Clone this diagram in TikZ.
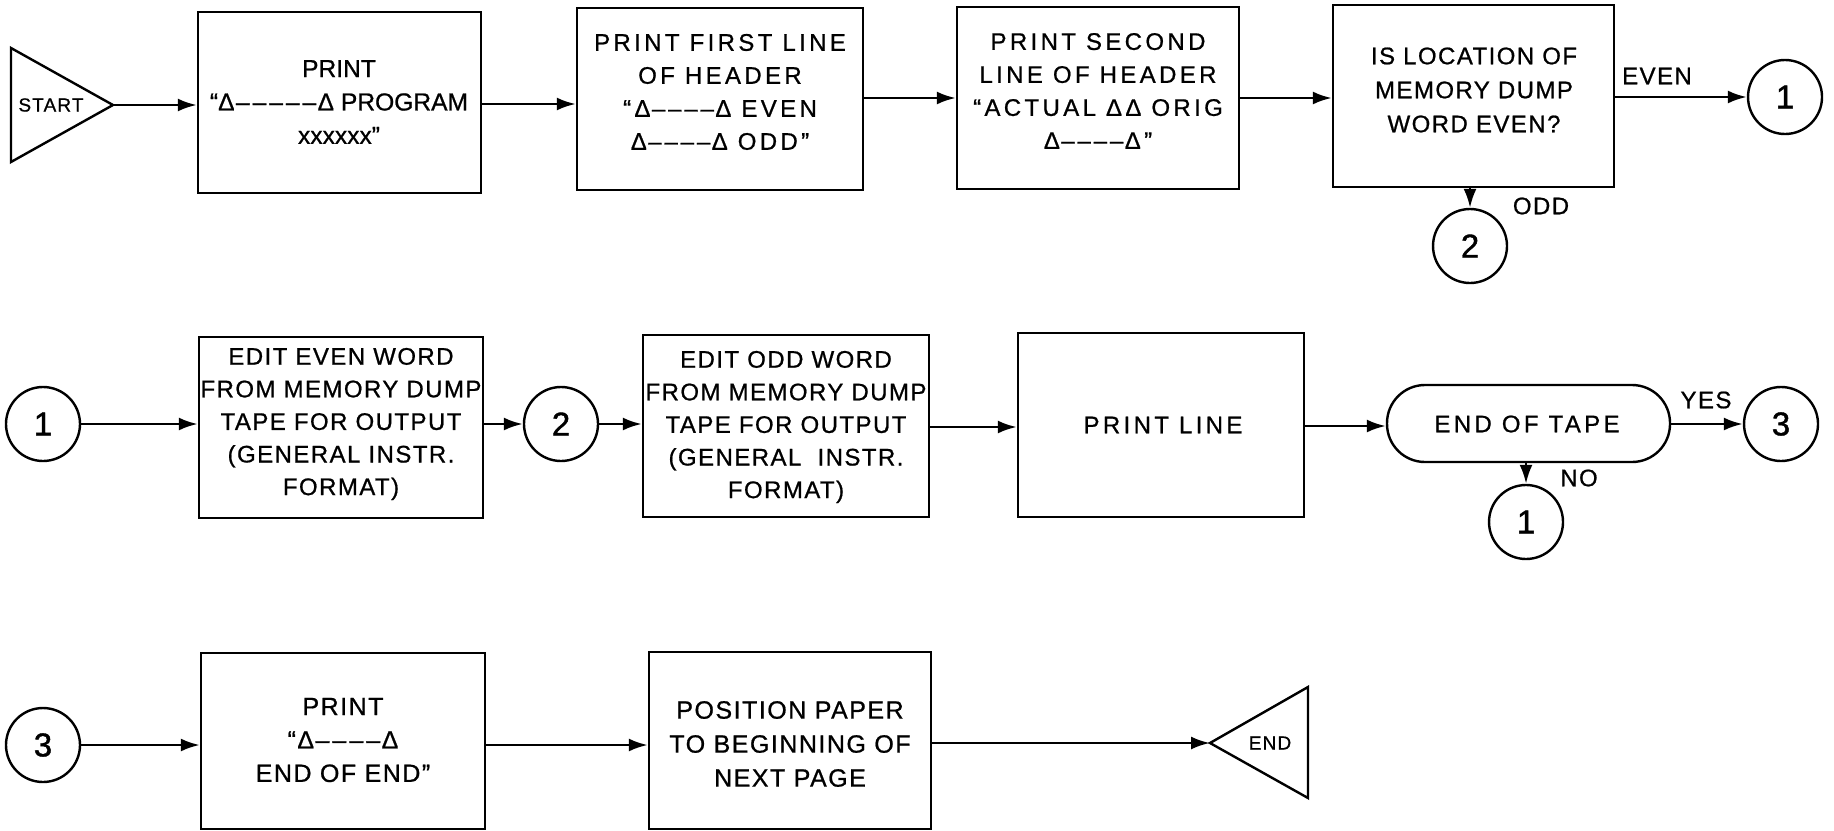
\documentclass[tikz,border=0pt]{standalone}
\usepackage{fontspec}
\setmainfont{Liberation Sans}[LetterSpace=6, FakeBold=0.8]
\newfontfamily\widefont{Liberation Sans}[LetterSpace=14, FakeBold=0.8]
\newfontfamily\plainfont{Liberation Sans}[FakeBold=0.8]
\newfontfamily\numfont{Liberation Sans}[FakeBold=1.2]
\usetikzlibrary{arrows.meta,fit}
\newcommand\fmain{\fontsize{12}{16.5}\selectfont}
\newcommand\fnum{\numfont\fontsize{16.5}{18}\selectfont}
\newcommand\fsmall{\fontsize{9.5}{11}\selectfont}
\newcommand\dk{\kern0.06em–\kern0.06em}
\begin{document}
\begin{tikzpicture}[x=0.5pt,y=-0.5pt,
 box/.style={draw, line width=1.2pt, inner sep=0pt},
 txt/.style={font=\fmain, align=center, inner sep=0pt},
 conn/.style={circle, draw, line width=1.2pt, minimum size=37pt, inner sep=0pt, font=\fnum},
 arr/.style={-{Latex[length=9.5pt,width=6.5pt]}, line width=1.3pt},
 lab/.style={font=\fmain, inner sep=0pt},
 small/.style={font=\fsmall, inner sep=0pt},
 tri/.style={line width=1.2pt, line join=miter}]
\useasboundingbox (0,0) rectangle (1834,830);

% ---- row 1
\draw[tri] (11,48) -- (113,105) -- (11,162) -- cycle;
\coordinate (sA) at (113,105);
\node[small] (start) at (51,105) {START};

\node[box, fit={(198,12)(481,193)}] (b1) {};
\node[txt, font={\plainfont\fontsize{12.3}{16.7}\selectfont}] (t1) at (339,102) {PRINT\\“Δ\dk\dk\dk\dk\dk Δ PROGRAM\\xxxxxx”};

\node[box, fit={(577,8)(863,190)}] (b2) {};
\node[txt, font={\widefont\fontsize{12}{16.5}\selectfont}] (t2) at (720,92) {PRINT FIRST LINE\\OF HEADER\\“Δ\dk\dk\dk\dk Δ EVEN\\Δ\dk\dk\dk\dk Δ ODD”};

\node[box, fit={(957,7)(1239,189)}] (b3) {};
\node[txt, font={\widefont\fontsize{12}{16.5}\selectfont}] (t3) at (1098,91) {PRINT SECOND\\LINE OF HEADER\\“ACTUAL ΔΔ ORIG\\Δ\dk\dk\dk\dk Δ”};

\node[box, fit={(1333,5)(1614,187)}] (b4) {};
\node[txt, font={\fontsize{12}{17}\selectfont}] (t4) at (1474,90) {IS LOCATION OF\\MEMORY DUMP\\WORD EVEN?};

\node[conn] (c1a) at (1785,97) {1};
\node[conn] (c2a) at (1470,246) {2};
\node[lab] (even) at (1657,76) {EVEN};
\node[lab] (odd) at (1541,206) {ODD};

\draw[arr] (sA) -- (sA -| b1.west);
\draw[arr] (b1.east |- 0,104) -- (b2.west |- 0,104);
\draw[arr] (b2.east |- 0,98) -- (b3.west |- 0,98);
\draw[arr] (b3.east |- 0,98) -- (b4.west |- 0,98);
\draw[arr] (b4.east |- c1a) -- (c1a.west);
\draw[arr] (c2a.north |- b4.south) -- (c2a.north);

% ---- row 2
\node[conn] (c1b) at (43,424) {1};
\node[box, fit={(199,337)(483,518)}] (b5) {};
\node[txt, font={\fontsize{12}{16.3}\selectfont}] (t5) at (341,424) {EDIT EVEN WORD\\FROM MEMORY DUMP\\TAPE FOR OUTPUT\\(GENERAL INSTR.\\FORMAT)};
\node[conn] (c2b) at (561,424) {2};
\node[box, fit={(643,335)(929,517)}] (b6) {};
\node[txt, font={\fontsize{12}{16.3}\selectfont}] (t6) at (786,427) {EDIT ODD WORD\\FROM MEMORY DUMP\\TAPE FOR OUTPUT\\(GENERAL\ \ INSTR.\\FORMAT)};
\node[box, fit={(1018,333)(1304,517)}] (b7) {};
\node[txt, font={\widefont\fontsize{12}{16}\selectfont}] (t7) at (1163,425) {PRINT LINE};
\node[box, rounded corners=19pt, fit={(1387,385)(1670,462)}] (term) {};
\node[txt, font={\widefont\fontsize{12}{16}\selectfont}] (t8) at (1527,424) {END OF TAPE};
\node[conn] (c3a) at (1781,424) {3};
\node[conn] (c1c) at (1526,522) {1};
\node[lab] (yes) at (1706,400) {YES};
\node[lab] (no) at (1579,478) {NO};

\draw[arr] (c1b.east) -- (c1b.east -| b5.west);
\draw[arr] (b5.east |- c2b) -- (c2b.west);
\draw[arr] (c2b.east) -- (c2b.east -| b6.west);
\draw[arr] (b6.east |- 0,427) -- (b7.west |- 0,427);
\draw[arr] (b7.east |- 0,426) -- (term.west |- 0,426);
\draw[arr] (term.east |- c3a) -- (c3a.west);
\draw[arr] (term.south -| c1c) -- (c1c.north);

% ---- row 3
\node[conn] (c3b) at (43,745) {3};
\node[box, fit={(201,653)(485,829)}] (b8) {};
\node[txt, font={\fontsize{12.5}{16.7}\selectfont}] (t9) at (343,740) {PRINT\\“Δ\dk\dk\dk\dk Δ\\END OF END”};
\node[box, fit={(649,652)(931,829)}] (b9) {};
\node[txt, font={\fontsize{12.5}{17}\selectfont}] (t10) at (790,744) {POSITION PAPER\\TO BEGINNING OF\\NEXT PAGE};
\draw[tri] (1210,743) -- (1308,687) -- (1308,798) -- cycle;
\coordinate (eA) at (1210,743);
\node[small] (endt) at (1270,743) {END};

\draw[arr] (c3b.east) -- (c3b.east -| b8.west);
\draw[arr] (b8.east |- 0,745) -- (b9.west |- 0,745);
\draw[arr] (b9.east |- eA) -- (eA);
\end{tikzpicture}
\end{document}
